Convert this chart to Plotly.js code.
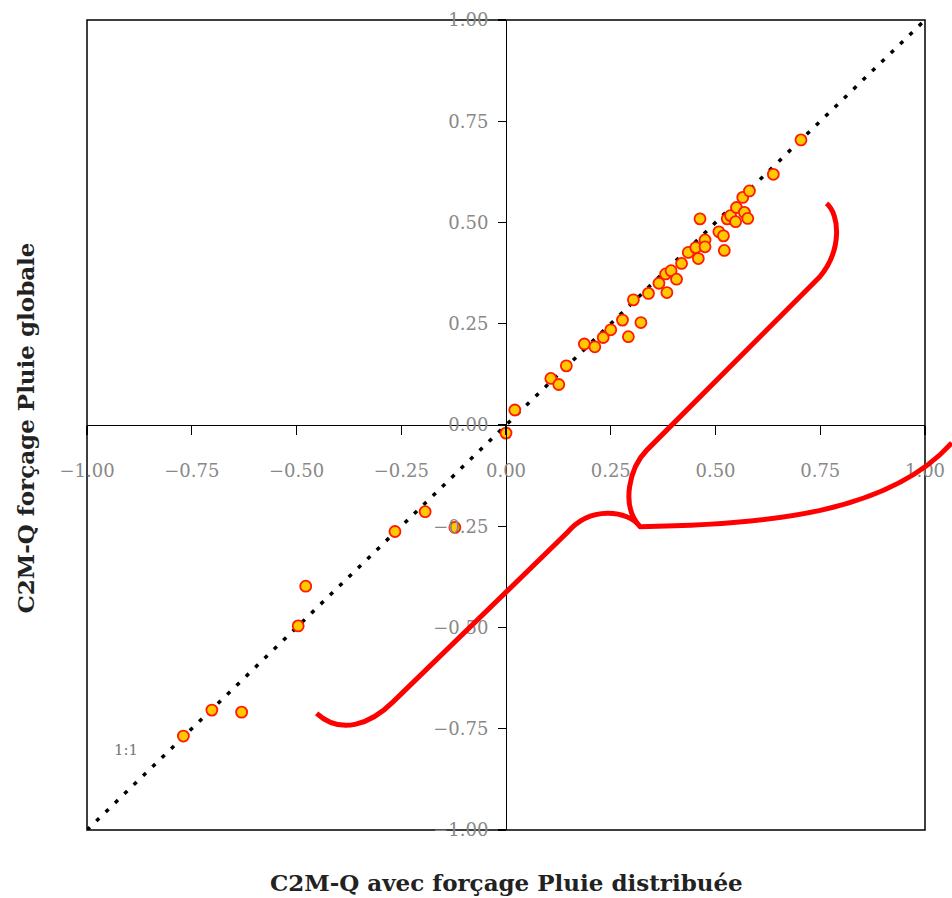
<!DOCTYPE html>
<html>
<head>
<meta charset="utf-8">
<script src="https://cdn.plot.ly/plotly-3.0.1.min.js"></script>
<style>html,body{margin:0;padding:0;background:#fff;}#chart{width:952px;height:898px;}</style>
</head>
<body>
<div id="chart"></div>
<script>
// Data: x = C2M-Q avec forçage Pluie distribuée, y = C2M-Q forçage Pluie globale
const xDistrib = [0.000, 0.021, 0.107, 0.126, 0.144, 0.187, 0.212, 0.232, 0.250, 0.278,
  0.292, 0.304, 0.322, 0.340, 0.365, 0.384, 0.381, 0.394, 0.407, 0.419,
  0.435, 0.453, 0.475, 0.475, 0.459, 0.463, 0.508, 0.519, 0.521, 0.528,
  0.536, 0.548, 0.550, 0.569, 0.577, 0.565, 0.581, 0.638, 0.704,
  -0.193, -0.122, -0.265, -0.478, -0.496, -0.702, -0.631, -0.770];
const yGlobale = [-0.020, 0.037, 0.115, 0.100, 0.146, 0.200, 0.193, 0.216, 0.235, 0.259,
  0.218, 0.309, 0.253, 0.325, 0.350, 0.327, 0.373, 0.381, 0.360, 0.399,
  0.426, 0.438, 0.457, 0.440, 0.411, 0.509, 0.477, 0.467, 0.431, 0.509,
  0.517, 0.502, 0.537, 0.525, 0.510, 0.562, 0.578, 0.619, 0.704,
  -0.214, -0.253, -0.263, -0.398, -0.496, -0.704, -0.709, -0.768];
const oneToOneX = [-1, 1];
const oneToOneY = [-1, 1];
const tickVals = [-1, -0.75, -0.5, -0.25, 0, 0.25, 0.5, 0.75, 1];
const tickText = ['\u22121.00', '\u22120.75', '\u22120.50', '\u22120.25', '0.00', '0.25', '0.50', '0.75', '1.00'];
const xTitle = 'C2M-Q avec forçage Pluie distribuée';
const yTitle = 'C2M-Q forçage Pluie globale';

// Red hand-drawn brace annotation (data units, converted to paper)
const bracePts = [
  ['M', 0.765, 0.547],
  ['C', 0.797, 0.519, 0.802, 0.432, 0.749, 0.366],
  ['L', 0.336, -0.062],
  ['C', 0.296, -0.104, 0.272, -0.198, 0.320, -0.251],
  ['C', 0.630, -0.247, 0.916, -0.215, 1.064, -0.044],
  ['M', 0.320, -0.251],
  ['C', 0.291, -0.210, 0.200, -0.198, 0.145, -0.267],
  ['L', -0.269, -0.683],
  ['C', -0.325, -0.741, -0.396, -0.765, -0.452, -0.712]
];
function toPaperPath(pts) {
  return pts.map(seg => {
    const cmd = seg[0];
    const nums = seg.slice(1);
    const out = [];
    for (let i = 0; i < nums.length; i += 2) {
      out.push(((nums[i] + 1) / 2).toFixed(4) + ',' + ((nums[i + 1] + 1) / 2).toFixed(4));
    }
    return cmd + ' ' + out.join(' ');
  }).join(' ');
}

const tickFont = {family: 'DejaVu Serif', size: 18, color: '#888'};

const traces = [
  {
    x: oneToOneX, y: oneToOneY, type: 'scatter', mode: 'lines',
    line: {color: '#000', width: 3.5, dash: '4px,9px'},
    hoverinfo: 'skip', showlegend: false
  },
  {
    x: xDistrib, y: yGlobale, type: 'scatter', mode: 'markers',
    marker: {symbol: 'circle', size: 11, color: '#FFC800', line: {color: '#FF1A00', width: 1.8}},
    showlegend: false, cliponaxis: false
  }
];

const layout = {
  width: 952, height: 898,
  margin: {l: 87, r: 27, t: 20, b: 68, pad: 0},
  paper_bgcolor: '#fff', plot_bgcolor: '#fff',
  showlegend: false,
  xaxis: {
    range: [-1, 1], anchor: 'free', position: 0.5,
    showgrid: false, zeroline: false,
    showline: true, linecolor: '#000', linewidth: 1.3,
    ticks: 'outside', ticklen: 9, tickwidth: 1.3, tickcolor: '#000',
    tickvals: tickVals, ticktext: tickText,
    tickfont: tickFont, ticklabelstandoff: 20
  },
  yaxis: {
    range: [-1, 1], anchor: 'free', position: 0.5,
    showgrid: false, zeroline: false,
    showline: true, linecolor: '#000', linewidth: 1.3,
    ticks: 'outside', ticklen: 8, tickwidth: 1.3, tickcolor: '#000',
    tickvals: tickVals, ticktext: tickText,
    tickfont: tickFont, ticklabelstandoff: 6
  },
  shapes: [
    {type: 'rect', xref: 'paper', yref: 'paper', x0: 0, x1: 1, y0: 0, y1: 1,
     line: {color: '#000', width: 1.5}, layer: 'below'},
    {type: 'path', xref: 'paper', yref: 'paper', path: toPaperPath(bracePts),
     line: {color: '#FF0000', width: 5}, layer: 'above'}
  ],
  annotations: [
    {text: '1:1', x: -0.907, y: -0.802, xref: 'x', yref: 'y', showarrow: false,
     font: {family: 'DejaVu Serif', size: 15, color: '#777'}},
    {text: '<b>' + xTitle + '</b>', xref: 'paper', yref: 'paper', x: 0.5, y: 0,
     yshift: -68, showarrow: false,
     font: {family: 'DejaVu Serif', size: 23, color: '#222'}},
    {text: '<b>' + yTitle + '</b>', xref: 'paper', yref: 'paper', x: 0, y: 0.5,
     xshift: -78, yshift: -3, textangle: -90, showarrow: false,
     font: {family: 'DejaVu Serif', size: 23, color: '#222'}}
  ]
};

Plotly.newPlot('chart', traces, layout, {displayModeBar: false, staticPlot: true});
</script>
</body>
</html>
